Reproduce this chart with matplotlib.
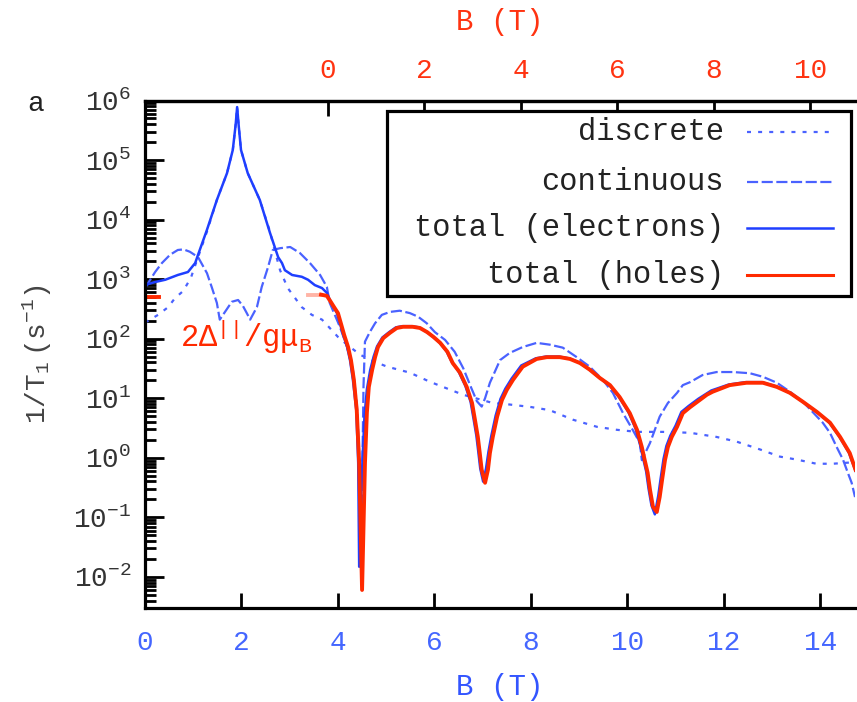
import numpy as np
import matplotlib
matplotlib.use("Agg")
import matplotlib.pyplot as plt
from matplotlib.patches import Rectangle
from matplotlib.ticker import LogLocator, FixedLocator, NullFormatter

plt.rcParams['font.family'] = ['Liberation Mono', 'DejaVu Sans Mono']
plt.rcParams['mathtext.fontset'] = 'custom'
plt.rcParams['mathtext.rm'] = 'Liberation Mono'
plt.rcParams['mathtext.it'] = 'Liberation Mono'
plt.rcParams['mathtext.default'] = 'regular'

# offset between the bottom (electrons) and top (holes) field axes, in T
B_SHIFT = 3.79

# discrete contribution: B (T), log10(1/T1)
disc_B = [0.00, 0.27, 0.48, 0.62, 0.79, 0.95, 1.10, 1.285, 1.49, 1.70, 1.82, 1.88, 1.91,
          1.94, 1.99, 2.13, 2.38, 2.59, 2.70, 2.80, 2.96, 3.25, 3.46, 3.67, 3.83, 4.00,
          4.19, 4.46, 4.77, 5.02, 5.49, 5.91, 6.59, 7.21, 7.50, 7.98, 8.39, 8.87, 9.37,
          9.78, 10.20, 10.74, 11.30, 11.85, 12.27, 12.75, 13.16, 13.51, 13.92, 14.26,
          14.61, 14.73]
disc_log = [2.27, 2.40, 2.53, 2.68, 2.80, 3.02, 3.37, 3.80, 4.33, 4.78, 5.17, 5.60, 5.89,
            5.60, 5.17, 4.78, 4.33, 3.80, 3.45, 3.15, 2.85, 2.53, 2.40, 2.32, 2.18, 2.03,
            1.90, 1.73, 1.61, 1.53, 1.43, 1.275, 1.06, 0.92, 0.90, 0.855, 0.80, 0.64, 0.52,
            0.47, 0.435, 0.435, 0.42, 0.35, 0.27, 0.14, 0.02, -0.03, -0.10, -0.10,
            -0.08, -0.08]

# continuous contribution
cont_B = [0.00, 0.10, 0.21, 0.35, 0.52, 0.68, 0.80, 0.93, 1.10, 1.285, 1.39, 1.49, 1.55,
          1.70, 1.80, 1.93, 2.03, 2.11, 2.18, 2.32, 2.42, 2.55, 2.65, 2.80, 3.01, 3.21,
          3.42, 3.63, 3.77, 3.83, 4.04, 4.19, 4.31, 4.39, 4.44, 4.46, 4.48, 4.50, 4.53,
          4.56, 4.66, 4.77, 4.91, 5.08, 5.28, 5.49, 5.66, 5.84, 6.01, 6.22, 6.42, 6.60,
          6.75, 6.88, 6.98, 7.05, 7.15, 7.25, 7.36, 7.56, 7.83, 8.12, 8.39, 8.66, 8.95,
          9.22, 9.49, 9.70, 9.91, 10.11, 10.26, 10.30, 10.47, 10.57, 10.67, 10.84, 11.03,
          11.15, 11.30, 11.56, 11.85, 12.19, 12.54, 12.81, 13.10, 13.37, 13.64, 13.84,
          14.05, 14.20, 14.34, 14.47, 14.57, 14.65, 14.72]
cont_log = [2.85, 2.98, 3.12, 3.27, 3.41, 3.49, 3.50, 3.46, 3.37, 3.10, 2.85, 2.60, 2.32,
            2.50, 2.62, 2.65, 2.55, 2.43, 2.32, 2.53, 2.87, 3.20, 3.49, 3.52, 3.54, 3.44,
            3.27, 3.07, 2.87, 2.60, 2.20, 1.86, 1.48, 0.92, 0.08, -0.76, -1.76, -0.50, 1.20,
            1.95, 2.11, 2.26, 2.40, 2.45, 2.47, 2.43, 2.37, 2.26, 2.11, 1.98, 1.78, 1.50,
            1.20, 0.95, 0.86, 1.00, 1.26, 1.44, 1.64, 1.76, 1.86, 1.93, 1.90, 1.85, 1.69,
            1.53, 1.31, 1.09, 0.75, 0.47, 0.25, -0.04, 0.25, 0.47, 0.69, 0.92, 1.09,
            1.22, 1.27, 1.39, 1.44, 1.44, 1.42, 1.36, 1.26, 1.11, 0.94, 0.77,
            0.59, 0.42, 0.18, -0.03, -0.25, -0.42, -0.66]

# total, electrons
elec_B = [0.00, 0.20, 0.42, 0.68, 0.89, 1.04, 1.10, 1.285, 1.49, 1.70, 1.82, 1.88, 1.91,
          1.94, 1.99, 2.13, 2.38, 2.59, 2.76, 2.84, 2.90, 3.05, 3.25, 3.38, 3.52, 3.67,
          3.77, 3.85, 3.92, 3.98, 4.04, 4.11, 4.19, 4.25, 4.31, 4.38, 4.42, 4.44, 4.50,
          4.55, 4.60, 4.67, 4.74, 4.81, 4.92, 5.06, 5.20, 5.33, 5.53, 5.68, 5.83, 5.96,
          6.10, 6.25, 6.36, 6.50, 6.64, 6.75, 6.81, 6.87, 6.91, 6.95, 7.01, 7.07, 7.12,
          7.18, 7.27, 7.37, 7.47, 7.60, 7.80, 8.10, 8.31, 8.58, 8.79, 9.00, 9.20, 9.41,
          9.61, 9.81, 10.02, 10.17, 10.27, 10.33, 10.39, 10.44, 10.50, 10.57, 10.64,
          10.69, 10.75, 10.81, 10.89, 11.00, 11.12, 11.27, 11.47, 11.74, 12.10, 12.45,
          12.79, 13.08, 13.35, 13.62, 13.91, 14.18, 14.39, 14.59, 14.73]
elec_log = [2.90, 2.95, 2.99, 3.07, 3.12, 3.27, 3.41, 3.83, 4.33, 4.78, 5.17, 5.60, 5.89,
            5.60, 5.17, 4.78, 4.33, 3.78, 3.37, 3.27, 3.15, 3.07, 3.04, 2.99, 2.90, 2.85,
            2.77, 2.62, 2.52, 2.43, 2.26, 2.06, 1.86, 1.64, 1.31, 0.80, -0.09, -1.83, -0.20,
            0.70, 1.15, 1.48, 1.70, 1.87, 2.02, 2.11, 2.19, 2.21, 2.21, 2.19, 2.12, 2.04,
            1.94, 1.79, 1.61, 1.45, 1.21, 0.94, 0.66, 0.37, 0.10, -0.18, -0.40, -0.18, 0.10,
            0.37, 0.71, 0.99, 1.16, 1.33, 1.55, 1.67, 1.70, 1.70, 1.67, 1.60, 1.49, 1.35,
            1.24, 1.04, 0.77, 0.49, 0.20, -0.02, -0.23, -0.52, -0.80, -0.95, -0.64,
            -0.35, -0.02, 0.20, 0.37, 0.54, 0.77, 0.87, 0.99, 1.13, 1.23, 1.27,
            1.27, 1.20, 1.10, 0.95, 0.78, 0.60, 0.36, 0.09, -0.22]

# total, holes (plotted against the bottom axis)
hole_B = [3.65, 3.77, 3.85, 3.92, 4.00, 4.06, 4.13, 4.21, 4.27, 4.33, 4.39, 4.44,
          4.50, 4.56, 4.60, 4.64, 4.71, 4.77, 4.83, 4.94, 5.08, 5.22, 5.35, 5.55, 5.70,
          5.85, 5.98, 6.12, 6.27, 6.38, 6.53, 6.67, 6.78, 6.84, 6.90, 6.94, 6.98, 7.05,
          7.11, 7.15, 7.21, 7.30, 7.40, 7.50, 7.63, 7.83, 8.12, 8.33, 8.60, 8.81, 9.02,
          9.22, 9.43, 9.64, 9.84, 10.05, 10.20, 10.30, 10.36, 10.42, 10.47, 10.53, 10.61,
          10.67, 10.72, 10.78, 10.84, 10.92, 11.03, 11.15, 11.30, 11.50, 11.65, 11.77,
          12.12, 12.47, 12.81, 13.10, 13.37, 13.64, 13.93, 14.20, 14.41, 14.61, 14.73]
hole_log = [2.74, 2.72, 2.62, 2.53, 2.43, 2.26, 2.06, 1.86, 1.64, 1.31, 0.80, -0.09,
            -2.22, -0.09, 0.76, 1.19, 1.48, 1.69, 1.86, 2.01, 2.10, 2.18, 2.20, 2.20, 2.18,
            2.11, 2.03, 1.93, 1.78, 1.59, 1.43, 1.19, 0.92, 0.64, 0.35, 0.08, -0.20, -0.42,
            -0.20, 0.08, 0.35, 0.69, 0.97, 1.14, 1.31, 1.53, 1.66, 1.69, 1.69, 1.66, 1.59,
            1.48, 1.34, 1.22, 1.02, 0.75, 0.47, 0.18, -0.04, -0.25, -0.54, -0.82, -0.91,
            -0.66, -0.37, -0.04, 0.18, 0.35, 0.52, 0.75, 0.85, 0.97, 1.06, 1.11,
            1.22, 1.26, 1.26, 1.19, 1.09, 0.94, 0.77, 0.59, 0.35, 0.08, -0.20]

# faint red lead-in of the holes curve, and short red mark at the left edge
lead_B = [3.38, 3.65]
lead_log = [2.74, 2.74]
edge_B = [0.0, 0.28]
edge_log = [2.70, 2.70]

blue = '#1f3fff'
light_blue = '#4a62ff'
red = '#ff2a00'

fig = plt.figure(figsize=(8.57, 7.02), dpi=100)
ax = fig.add_axes([0.1692, 0.1339, 0.8285, 0.7229])

ax.plot(disc_B, np.power(10.0, disc_log), color=light_blue, lw=1.6, dashes=(1.8, 3.2))
ax.plot(cont_B, np.power(10.0, cont_log), color=light_blue, lw=1.6, dashes=(5, 1.6))
ax.plot(elec_B, np.power(10.0, elec_log), color=blue, lw=1.8)
ax.plot(lead_B, np.power(10.0, lead_log), color=red, lw=2.8, alpha=0.35)
ax.plot(hole_B, np.power(10.0, hole_log), color=red, lw=2.8)
ax.plot(edge_B, np.power(10.0, edge_log), color=red, lw=2.8)

ax.set_yscale('log')
ax.set_xlim(0, 14.72)
ax.set_ylim(3e-3, 1e6)

for s in ['left', 'bottom', 'top']:
    ax.spines[s].set_linewidth(2.3)
ax.spines['right'].set_visible(False)

ax.yaxis.set_major_locator(LogLocator(base=10, numticks=20))
ax.yaxis.set_minor_locator(LogLocator(base=10, subs=np.arange(2, 10), numticks=20))
ax.yaxis.set_minor_formatter(NullFormatter())
ax.tick_params(axis='y', which='major', direction='in', length=14, width=2.0,
               labelsize=20, pad=10, labelcolor='#333333', right=False)
ax.tick_params(axis='y', which='minor', direction='in', length=8, width=2.0, right=False)

ax.set_xticks([0, 2, 4, 6, 8, 10, 12, 14])
ax.tick_params(axis='x', which='major', direction='in', length=11, width=2.0,
               labelsize=20, pad=16, labelcolor='#4466ff', top=False)
ax.set_xlabel('B (T)', fontsize=21, color='#3355ff', labelpad=12)
ax.set_ylabel(r'$1/T_1\ (s^{-1})$', fontsize=20, color='#444444', labelpad=14)

top = ax.secondary_xaxis('top', functions=(lambda b: b - B_SHIFT, lambda t: t + B_SHIFT))
top.xaxis.set_major_locator(FixedLocator([0, 2, 4, 6, 8, 10]))
top.tick_params(axis='x', direction='in', length=11, width=2.0, labelsize=20,
                pad=12, labelcolor='#ff3311')
top.spines['top'].set_linewidth(2.3)
top.set_xlabel('B (T)', fontsize=21, color='#ff3311', labelpad=20)

# legend, gnuplot style: right aligned text, sample to the right
labels = ['discrete', 'continuous', 'total (electrons)', 'total (holes)']
styles = [dict(color=light_blue, lw=1.6, dashes=(1.8, 3.2)),
          dict(color=light_blue, lw=1.6, dashes=(5, 1.6)),
          dict(color=blue, lw=1.8),
          dict(color=red, lw=2.2)]
rows = [0.938, 0.839, 0.749, 0.656]
ax.add_patch(Rectangle((0.341, 0.615), 0.653, 0.364, transform=ax.transAxes,
                       facecolor='white', edgecolor='black', lw=2.3, zorder=5))
for lab, st, yy in zip(labels, styles, rows):
    ax.text(0.8155, yy, lab, transform=ax.transAxes, ha='right', va='center',
            fontsize=22, color='#222222', zorder=6)
    ax.plot([0.848, 0.969], [yy, yy], transform=ax.transAxes, zorder=6, **st)

ax.text(0.049, 0.515, r'$2\Delta^{||}/g\mu_B$', transform=ax.transAxes,
        ha='left', va='baseline', fontsize=22, color=red)

fig.text(36 / 857, 1 - 104 / 702, 'a', fontsize=20, ha='center', va='center',
         color='#222222')

fig.savefig('out.png', dpi=100)
